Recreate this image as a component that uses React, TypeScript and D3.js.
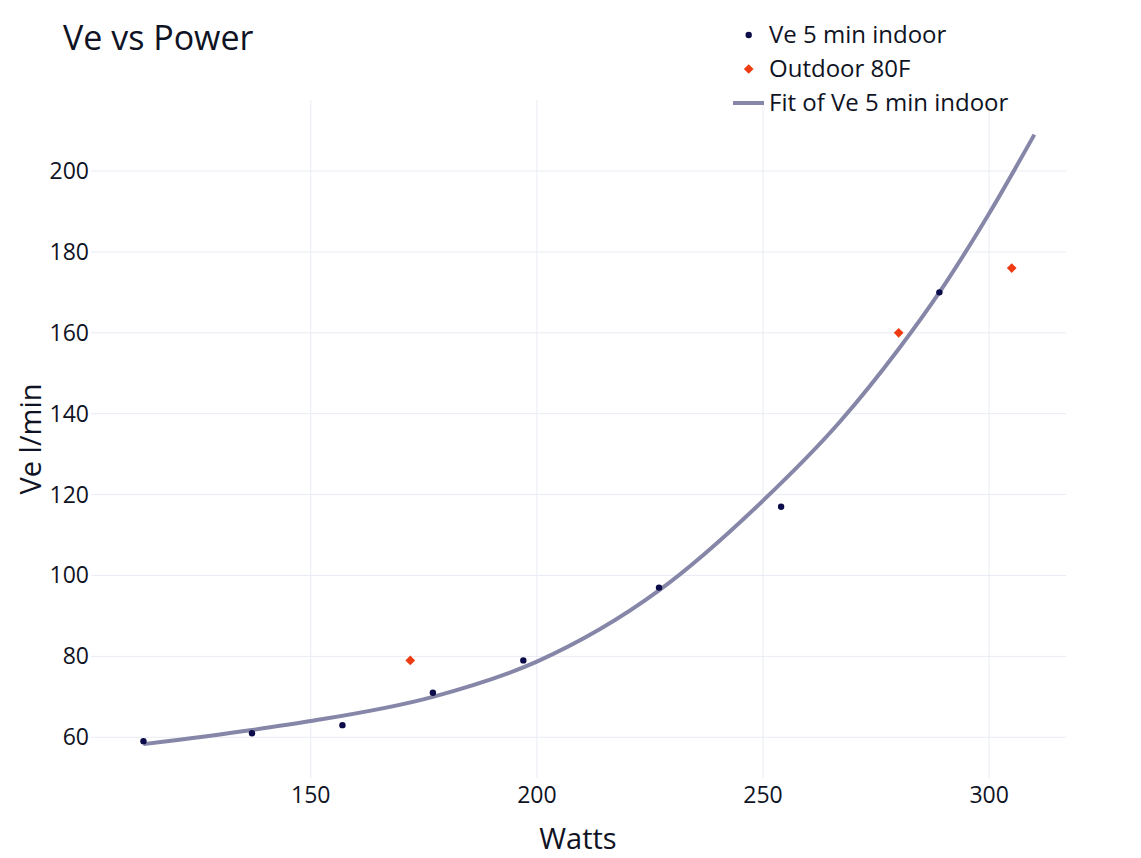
import React from 'react';
import * as d3 from 'd3';

// Ve 5 min indoor (watts, l/min)
const indoorWatts = [113, 137, 157, 177, 197, 227, 254, 289];
const indoorVe = [59, 61, 63, 71, 79, 97, 117, 170];

// Outdoor 80F
const outdoorWatts = [172, 280, 305];
const outdoorVe = [79, 160, 176];

// Fit of Ve 5 min indoor
const fitWatts = [113, 137, 150, 177, 200, 227, 250, 267, 280, 289, 300, 310];
const fitVe = [58.3, 61.8, 64, 70, 78.7, 96.3, 118.5, 138, 156, 170, 189.5, 209];

const xTicks = [150, 200, 250, 300];
const yTicks = [60, 80, 100, 120, 140, 160, 180, 200];

const legendItems = ['Ve 5 min indoor', 'Outdoor 80F', 'Fit of Ve 5 min indoor'];

const W = 1141;
const H = 858;
const margin = { top: 100, right: 75, bottom: 80, left: 91 };

const FONT = '"Open Sans", "Noto Sans", sans-serif';
const TEXT = '#0f1324';
const GRID = '#e9ecf4';
const DOT = '#0c0c4a';
const DIAMOND = '#ef3b12';
const FIT = '#8686a8';

const App: React.FC = () => {
  const x = d3.scaleLinear().domain([101.4, 317]).range([margin.left, W - margin.right]);
  const y = d3.scaleLinear().domain([49.93, 217.56]).range([H - margin.bottom, margin.top]);

  const line = d3.line<number>()
    .x((_, i) => x(fitWatts[i]))
    .y(d => y(d))
    .curve(d3.curveMonotoneX);

  const diamond = d3.symbol().type(d3.symbolDiamond2).size(60)();

  return (
    <svg width={W} height={H} style={{ position: 'absolute', left: 0, top: 0, background: '#fff' }} fontFamily={FONT}>
      {/* grid */}
      {xTicks.map(t => (
        <line key={'gx' + t} x1={x(t)} x2={x(t)} y1={margin.top} y2={H - margin.bottom} stroke={GRID} strokeWidth={1} />
      ))}
      {yTicks.map(t => (
        <line key={'gy' + t} x1={margin.left} x2={W - margin.right} y1={y(t)} y2={y(t)} stroke={GRID} strokeWidth={1} />
      ))}

      {/* tick labels */}
      {xTicks.map(t => (
        <text key={'tx' + t} x={x(t)} y={803} textAnchor="middle" fontSize={23} fill={TEXT}>{t}</text>
      ))}
      {yTicks.map(t => (
        <text key={'ty' + t} x={89} y={y(t) + 8} textAnchor="end" fontSize={23} fill={TEXT}>{t}</text>
      ))}

      {/* fit line */}
      <path d={line(fitVe) || ''} fill="none" stroke={FIT} strokeWidth={4} />

      {/* indoor points */}
      {indoorVe.map((v, i) => (
        <circle key={'d' + i} cx={x(indoorWatts[i])} cy={y(v)} r={3.2} fill={DOT} />
      ))}

      {/* outdoor points */}
      {outdoorVe.map((v, i) => (
        <path key={'o' + i} d={diamond || ''} transform={`translate(${x(outdoorWatts[i])},${y(v)})`} fill={DIAMOND} />
      ))}

      {/* titles */}
      <text x={63} y={50} fontSize={34} fill={TEXT}>Ve vs Power</text>
      <text x={578} y={849} textAnchor="middle" fontSize={29} fill={TEXT}>Watts</text>
      <text transform={`translate(41,${(margin.top + H - margin.bottom) / 2}) rotate(-90)`} textAnchor="middle" fontSize={29} fill={TEXT}>Ve l/min</text>

      {/* legend */}
      <g>
        <circle cx={748.7} cy={35} r={3.2} fill={DOT} />
        <path d={diamond || ''} transform="translate(748.7,69)" fill={DIAMOND} />
        <line x1={733} x2={764} y1={103} y2={103} stroke={FIT} strokeWidth={4} />
        {legendItems.map((s, i) => (
          <text key={s} x={769} y={35 + i * 34 + 8} fontSize={24} fill={TEXT}>{s}</text>
        ))}
      </g>
    </svg>
  );
};

export default App;
